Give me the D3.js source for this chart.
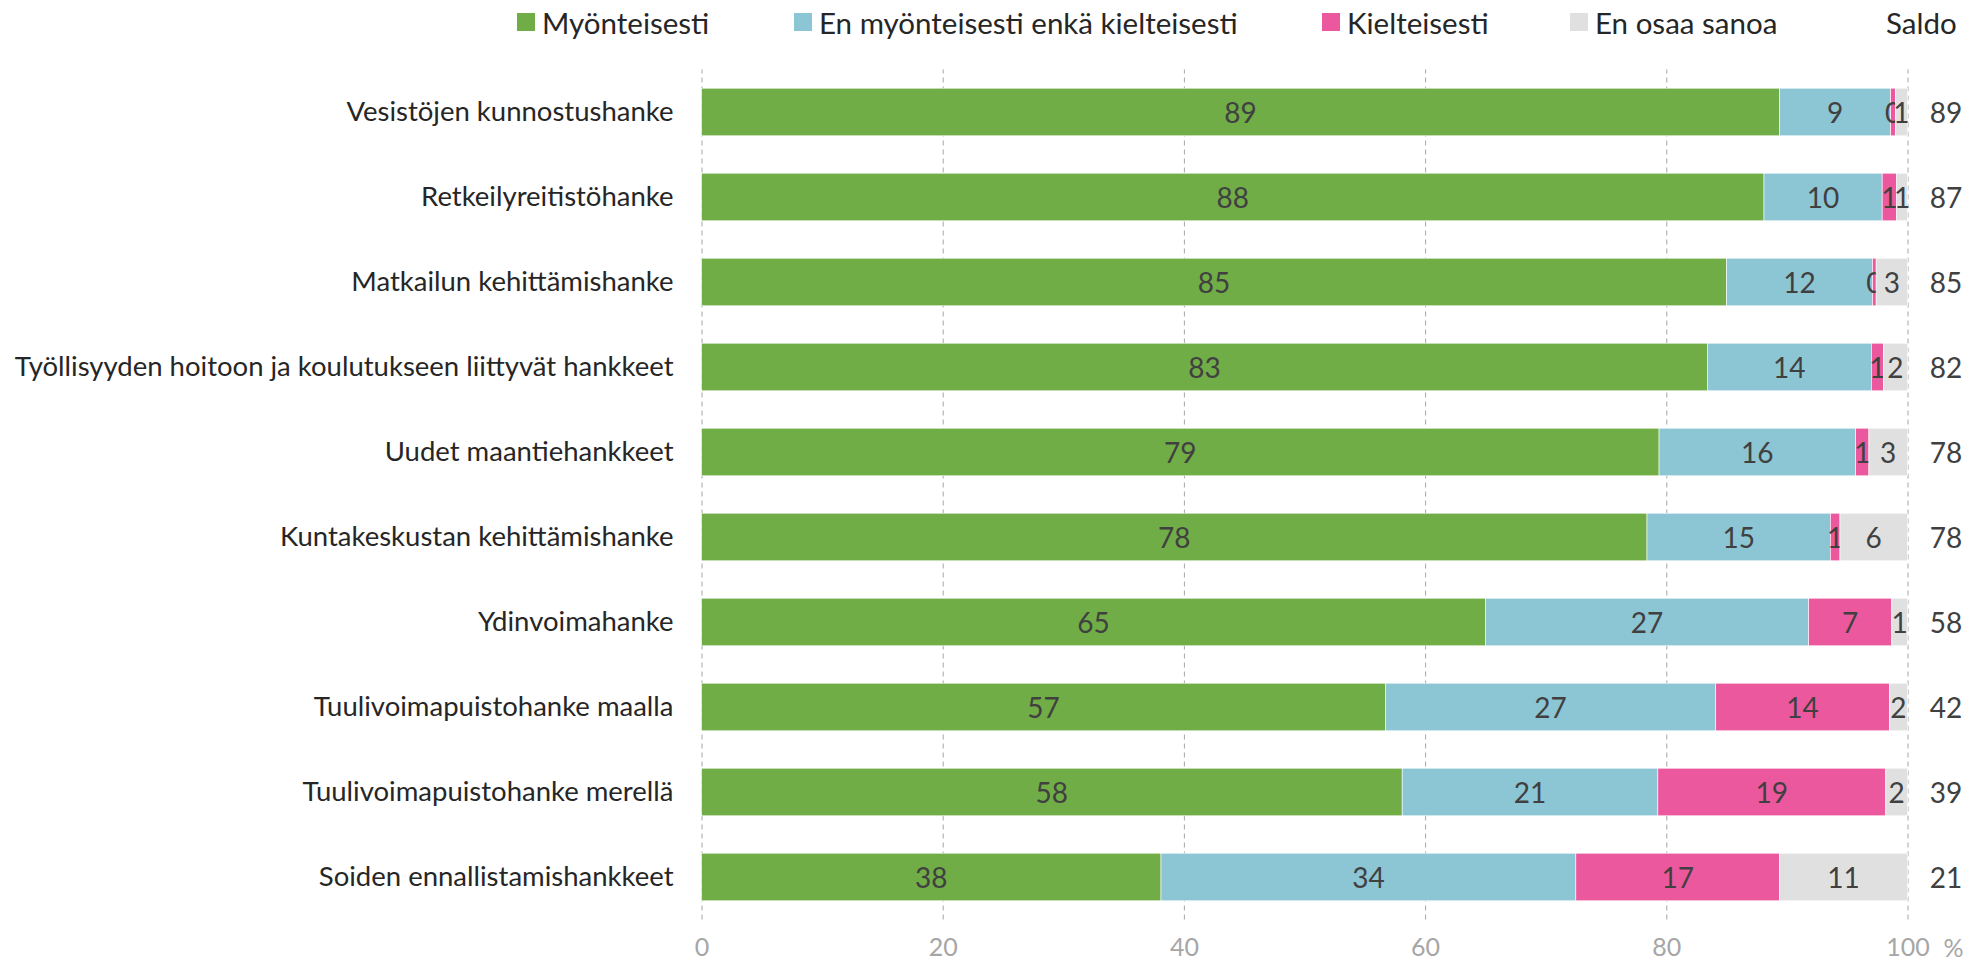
<!DOCTYPE html>
<html lang="fi">
<head>
<meta charset="utf-8">
<script src="https://cdn.jsdelivr.net/npm/d3@7"></script>
<style>
  html, body { margin: 0; padding: 0; background: #fff; }
  svg { display: block; font-family: Lato, "Open Sans", sans-serif; }
</style>
</head>
<body>
<svg id="chart" width="1972" height="964"></svg>
<script>
// Hankkeet ja vastausjakaumat (%)
const categories = [
  "Vesistöjen kunnostushanke",
  "Retkeilyreitistöhanke",
  "Matkailun kehittämishanke",
  "Työllisyyden hoitoon ja koulutukseen liittyvät hankkeet",
  "Uudet maantiehankkeet",
  "Kuntakeskustan kehittämishanke",
  "Ydinvoimahanke",
  "Tuulivoimapuistohanke maalla",
  "Tuulivoimapuistohanke merellä",
  "Soiden ennallistamishankkeet"
];
const myonteisesti = [89.4, 88.1, 85.0, 83.4, 79.4, 78.4, 65.0, 56.7, 58.1, 38.1];
const neutraali    = [9.2, 9.8, 12.1, 13.6, 16.3, 15.2, 26.8, 27.4, 21.2, 34.4];
const kielteisesti = [0.4, 1.2, 0.3, 1.0, 1.1, 0.8, 6.9, 14.4, 18.9, 16.9];
const eiOsaa       = [1.0, 0.9, 2.6, 2.0, 3.2, 5.6, 1.3, 1.5, 1.8, 10.6];
const saldo        = [89, 87, 85, 82, 78, 78, 58, 42, 39, 21];

const seriesNames = ["Myönteisesti", "En myönteisesti enkä kielteisesti", "Kielteisesti", "En osaa sanoa"];
const seriesColors = ["#70ad47", "#8cc5d4", "#ec589d", "#e0e0e0"];
const xTicks = [0, 20, 40, 60, 80, 100];

const seriesValues = [myonteisesti, neutraali, kielteisesti, eiOsaa];
const keys = ["s0", "s1", "s2", "s3"];
const rows = categories.map((c, i) => {
  const r = { category: c };
  keys.forEach((k, j) => r[k] = seriesValues[j][i]);
  return r;
});

const svg = d3.select("#chart");
const plotTop = 69.5, plotBottom = 919.5;

const x = d3.scaleLinear().domain([0, 100]).range([701.5, 1907.5]);
const y = d3.scaleBand().domain(categories).range([plotTop, plotBottom])
  .paddingInner(0.44).paddingOuter(0.22);
const color = d3.scaleOrdinal().domain(keys).range(seriesColors);

// Pystysuuntaiset apuviivat ja x-akselin asteikko
const xAxis = svg.append("g")
  .attr("transform", `translate(0,${plotBottom})`)
  .call(d3.axisBottom(x).tickValues(xTicks).tickSizeInner(-(plotBottom - plotTop)).tickSizeOuter(0).tickPadding(19));
xAxis.select(".domain").remove();
xAxis.selectAll(".tick line")
  .attr("stroke", "#a6a6a6").attr("stroke-width", 1).attr("stroke-dasharray", "5,4");
xAxis.selectAll(".tick text")
  .attr("fill", "#a6a6a6").style("font-size", "25px").style("font-family", "Lato, sans-serif");

svg.append("text")
  .attr("x", x(100) + 46).attr("y", 947)
  .attr("text-anchor", "middle").attr("dominant-baseline", "central")
  .attr("fill", "#a6a6a6").style("font-size", "25px")
  .text("%");

// Luokkien nimet
const yAxis = svg.append("g")
  .attr("transform", `translate(${x(0)},0)`)
  .call(d3.axisLeft(y).tickSize(0).tickPadding(28));
yAxis.select(".domain").remove();
yAxis.selectAll(".tick text")
  .attr("fill", "#262626").style("font-size", "27.5px").style("font-family", "Lato, sans-serif");

// Pinotut palkit
const stacked = d3.stack().keys(keys)(rows);
const layers = svg.append("g").selectAll("g")
  .data(stacked).join("g")
  .attr("fill", d => color(d.key));

layers.selectAll("rect")
  .data(d => d)
  .join("rect")
  .attr("x", d => x(d[0]))
  .attr("y", d => y(d.data.category))
  .attr("width", d => x(d[1]) - x(d[0]))
  .attr("height", y.bandwidth())
  .attr("stroke", "#ffffff").attr("stroke-width", 0.6);

// Arvot palkkien sisällä
layers.selectAll("text")
  .data(d => d)
  .join("text")
  .attr("x", d => (x(d[0]) + x(d[1])) / 2)
  .attr("y", d => y(d.data.category) + y.bandwidth() / 2)
  .attr("text-anchor", "middle").attr("dominant-baseline", "central")
  .attr("fill", "#404040").style("font-size", "28px")
  .text(d => Math.round(d[1] - d[0]));

// Saldo-sarake
svg.append("g").selectAll("text")
  .data(categories)
  .join("text")
  .attr("x", 1946)
  .attr("y", (c) => y(c) + y.bandwidth() / 2)
  .attr("text-anchor", "middle").attr("dominant-baseline", "central")
  .attr("fill", "#404040").style("font-size", "28px")
  .text((c, i) => saldo[i]);

// Selite
const legendX = [517, 794, 1322, 1570];
const legend = svg.append("g").selectAll("g")
  .data(seriesNames)
  .join("g")
  .attr("transform", (d, i) => `translate(${legendX[i]},22)`);
legend.append("rect")
  .attr("x", 0).attr("y", -9).attr("width", 18).attr("height", 18)
  .attr("fill", (d, i) => seriesColors[i]);
legend.append("text")
  .attr("x", 25).attr("y", 0)
  .attr("dominant-baseline", "central")
  .attr("fill", "#262626").style("font-size", "29.5px")
  .text(d => d);

svg.append("text")
  .attr("x", 1886).attr("y", 22)
  .attr("dominant-baseline", "central")
  .attr("fill", "#262626").style("font-size", "29.5px")
  .text("Saldo");
</script>
</body>
</html>
